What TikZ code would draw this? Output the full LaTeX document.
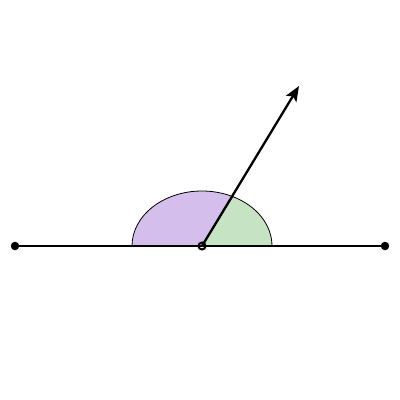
\documentclass[tikz,border=0pt]{standalone}
\usepackage{tikz}
\usetikzlibrary{arrows.meta}

\definecolor{anglepurple}{RGB}{212,190,236}
\definecolor{anglegreen}{RGB}{198,228,196}

\begin{document}
\begin{tikzpicture}[x=1pt,y=-1pt]
\tikzstyle{point} = [circle, fill=black, inner sep=0pt, minimum size=8.5pt]
\tikzstyle{vertex} = [circle, draw=black, line width=2pt, inner sep=0pt, minimum size=7pt]
\tikzstyle{ray} = [draw=black, line width=2.3pt]
\tikzstyle{sector} = [draw=black, line width=0.8pt]

\useasboundingbox (0,0) rectangle (400,400);

\coordinate (O) at (202,246);
\coordinate (P) at (299,86);

% the two angles
\path[sector, fill=anglepurple] (O) -- ++(-70,0) arc[start angle=180, end angle=64, x radius=70, y radius=-55] -- cycle;
\path[sector, fill=anglegreen] (O) -- ++(70,0) arc[start angle=0, end angle=64, x radius=70, y radius=-55] -- cycle;

\node[point] (L) at (15,246) {};
\node[point] (R) at (385,246) {};

\path[ray] (L) -- (R);
\path[ray, -{Stealth[length=15pt, width=12pt, inset=3pt]}] (O) -- (P);

\node[vertex] (C) at (O) {};
\end{tikzpicture}
\end{document}
